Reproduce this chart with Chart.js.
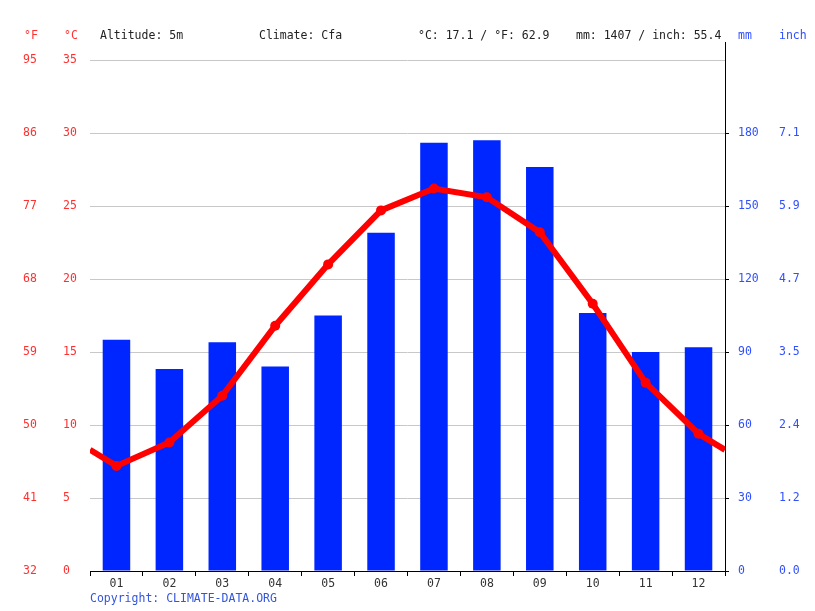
<!DOCTYPE html>
<html>
<head>
<meta charset="utf-8">
<script src="https://cdn.jsdelivr.net/npm/chart.js@4"></script>
<style>
  html, body { margin: 0; padding: 0; background: #fff; }
  #wrap { width: 815px; height: 611px; }
</style>
</head>
<body>
<div id="wrap"><canvas id="climate" width="815" height="611"></canvas></div>
<script>
const months = ['01', '02', '03', '04', '05', '06', '07', '08', '09', '10', '11', '12'];
const precipMm = [95, 83, 94, 84, 105, 139, 176, 177, 166, 106, 90, 92];
const tempC = [7.2, 8.8, 12.0, 16.8, 21.0, 24.7, 26.2, 25.6, 23.2, 18.3, 12.9, 9.4];
const edgeTempC = 8.3; // where the line meets the left and right edge
const headerTexts = ['Altitude: 5m', 'Climate: Cfa', '°C: 17.1 / °F: 62.9', 'mm: 1407 / inch: 55.4'];

const FONT = '"DejaVu Sans Mono", "Liberation Mono", monospace';
const RED = '#ff3030';
const BLUE = '#3050ff';

// line points on a hidden 0..12 axis, month centres at .5
const linePoints = [{ x: 0, y: edgeTempC }];
tempC.forEach((t, i) => linePoints.push({ x: i + 0.5, y: t }));
linePoints.push({ x: 12, y: edgeTempC });

const extras = {
  id: 'extras',
  afterDraw(chart) {
    const ctx = chart.ctx;
    const area = chart.chartArea;
    ctx.save();
    ctx.font = '11.5px ' + FONT;
    ctx.textBaseline = 'middle';
    ctx.textAlign = 'left';
    ctx.fillStyle = RED;
    ctx.fillText('°F', 24, 36);
    ctx.fillText('°C', 64, 36);
    ctx.fillStyle = '#222';
    const xs = [100, 259, 418, 576];
    headerTexts.forEach((t, i) => ctx.fillText(t, xs[i], 36));
    ctx.fillStyle = BLUE;
    ctx.fillText('mm', 738, 36);
    ctx.fillText('inch', 779, 36);
    ctx.fillStyle = '#3355dd';
    ctx.fillText('Copyright: CLIMATE-DATA.ORG', 90, 599);
    // right axis line runs up past the plot
    ctx.strokeStyle = '#000';
    ctx.lineWidth = 1;
    ctx.beginPath();
    ctx.moveTo(Math.round(area.right) + 0.5, 42);
    ctx.lineTo(Math.round(area.right) + 0.5, area.top);
    ctx.stroke();
    ctx.restore();
  }
};

new Chart(document.getElementById('climate'), {
  data: {
    labels: months,
    datasets: [
      {
        type: 'line',
        data: linePoints,
        xAxisID: 'xl',
        yAxisID: 'yC',
        borderColor: '#ff0000',
        backgroundColor: '#ff0000',
        borderWidth: 6,
        tension: 0,
        pointRadius: linePoints.map((p, i) => (i === 0 || i === linePoints.length - 1) ? 0 : 5),
        pointBorderWidth: 0,
        order: 0
      },
      {
        type: 'bar',
        data: precipMm,
        xAxisID: 'x',
        yAxisID: 'yMm',
        backgroundColor: '#0026ff',
        grouped: false,
        barPercentage: 0.52,
        categoryPercentage: 1,
        order: 1
      }
    ]
  },
  options: {
    responsive: false,
    animation: false,
    layout: { padding: { left: 23, right: 0, top: 60, bottom: 16 } },
    plugins: { legend: { display: false }, tooltip: { enabled: false } },
    scales: {
      x: {
        type: 'category',
        offset: true,
        grid: { offset: true, drawOnChartArea: false, tickLength: 5, color: '#000' },
        border: { color: '#000' },
        ticks: { color: '#333', font: { family: FONT, size: 11.5 }, padding: 1 },
        afterFit(s) { s.height = 24; }
      },
      xl: { type: 'linear', display: false, min: 0, max: 12 },
      yC: {
        position: 'left',
        weight: 0,
        min: 0, max: 35,
        ticks: { stepSize: 5, color: RED, crossAlign: 'far', padding: 0, font: { family: FONT, size: 11.5 } },
        grid: { color: '#c8c8c8', drawTicks: false },
        border: { display: false },
        afterFit(s) { s.width = 27; }
      },
      yF: {
        position: 'left',
        weight: 1,
        min: 32, max: 95,
        ticks: { stepSize: 9, color: RED, crossAlign: 'far', padding: 0, font: { family: FONT, size: 11.5 } },
        grid: { display: false, drawTicks: false },
        border: { display: false },
        afterFit(s) { s.width = 40; }
      },
      yMm: {
        position: 'right',
        weight: 0,
        min: 0, max: 210,
        ticks: {
          stepSize: 30, color: BLUE, padding: 9, font: { family: FONT, size: 11.5 },
          callback: v => v >= 210 ? '' : String(v)
        },
        grid: {
          drawOnChartArea: false, tickLength: 4,
          tickColor: c => (c.tick && c.tick.value >= 210) ? 'rgba(0,0,0,0)' : '#000'
        },
        border: { color: '#000' },
        afterFit(s) { s.width = 54; }
      },
      yInch: {
        position: 'right',
        weight: 1,
        min: 0, max: 210,
        ticks: {
          stepSize: 30, color: BLUE, padding: 0, font: { family: FONT, size: 11.5 },
          callback: v => v >= 210 ? '' : (v / 25.4).toFixed(1)
        },
        grid: { display: false, drawTicks: false },
        border: { display: false },
        afterFit(s) { s.width = 36; }
      }
    }
  },
  plugins: [extras]
});
</script>
</body>
</html>
